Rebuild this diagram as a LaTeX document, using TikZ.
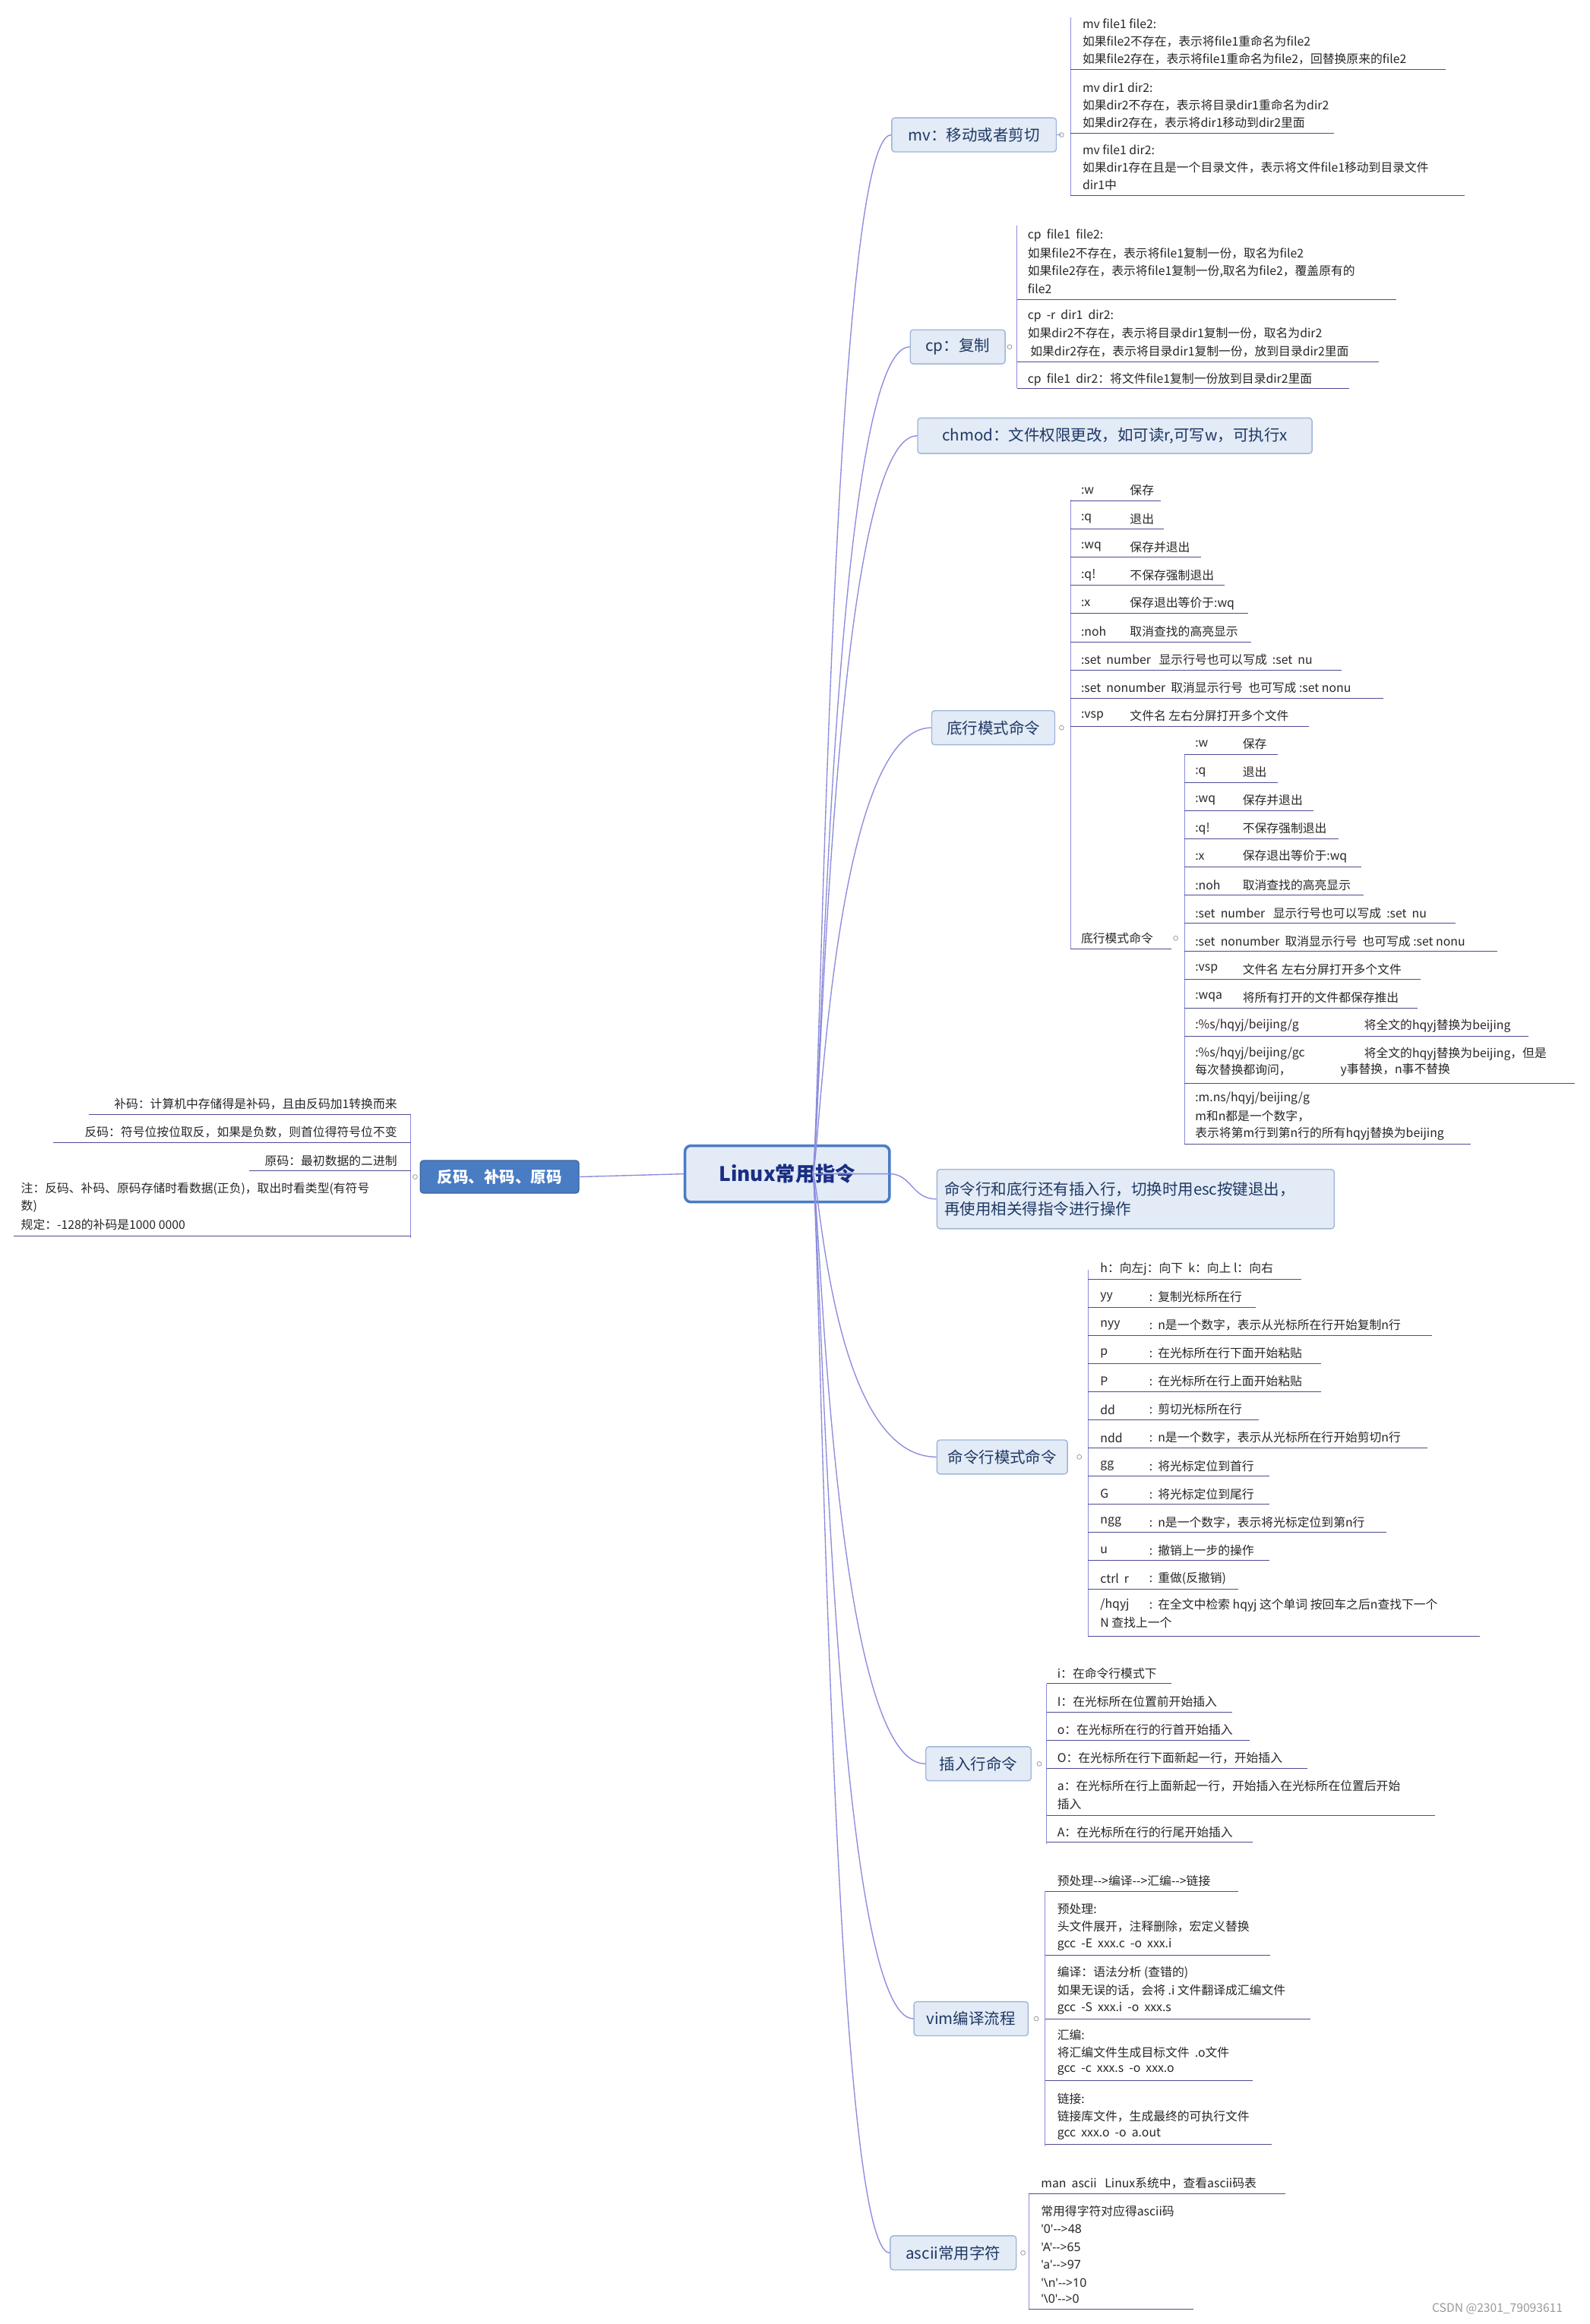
\documentclass[tikz,border=0pt]{standalone}
\usepackage{fontspec}
\setmainfont{Noto Sans CJK SC}
\newfontfamily\lat{Noto Sans}
\definecolor{lbox}{HTML}{4A7CC4}
\definecolor{bfill}{HTML}{E2EBF6}
\definecolor{bline}{HTML}{9FB6D8}
\definecolor{btext}{HTML}{1F3864}
\begin{document}
\begin{tikzpicture}[x=1pt,y=-1pt,
 t/.style={inner sep=0pt,font=\fontsize{8.1}{9}\selectfont,text=black!85},
 ul/.style={draw=black!60!blue!70,line width=0.5pt},
 ln/.style={draw=black!30!blue!45,line width=0.5pt},
 br/.style={draw=bline,line width=0.7pt,rounded corners=2pt,fill=bfill,inner sep=0pt,font=\fontsize{10.5}{13}\selectfont,text=btext},
 dot/.style={circle,draw=black!40,fill=white,inner sep=0pt,minimum size=3pt}]
\useasboundingbox (0,0) rectangle (1072,1568);
\newcommand\T[3]{\node[t,anchor=west] at (#1,#2) {#3};}
\newcommand\U[3]{\draw[ul] (#1,#3) -- (#2,#3);}
\newcommand\B[3]{\draw[ln] (#1,#2) -- (#1,#3);}
\newcommand\D[2]{\node[dot] at (#1,#2) {};}
% central
\node[draw=lbox,line width=1.8pt,rounded corners=4pt,fill=bfill,minimum width=138pt,minimum height=38pt,font=\fontsize{13.5}{15}\selectfont\bfseries,text=btext!80!blue] (c) at (531,792) {Linux常用指令};
\coordinate (o) at (548,792);
\coordinate (oc) at (560,792);
% branch nodes
\node[br,minimum width=111pt,minimum height=23pt] (mv) at (657,91) {mv：移动或者剪切};
\node[br,minimum width=64pt,minimum height=23pt] (cp) at (646,234) {cp：复制};
\node[br,minimum width=266pt,minimum height=24pt] (ch) at (752,294) {chmod：文件权限更改，如可读r,可写w，可执行x};
\node[br,minimum width=83pt,minimum height=23pt] (dh) at (670,491) {底行模式命令};
\node[br,minimum width=268pt,minimum height=40pt,align=left,text width=258pt] (sw) at (766,809) {命令行和底行还有插入行，切换时用esc按键退出，\\再使用相关得指令进行操作};
\node[br,minimum width=88pt,minimum height=23pt] (ml) at (676,983) {命令行模式命令};
\node[br,minimum width=71pt,minimum height=23pt] (cr) at (660,1190) {插入行命令};
\node[br,minimum width=77pt,minimum height=23pt] (vb) at (655,1362) {vim编译流程};
\node[br,minimum width=85pt,minimum height=23pt] (as) at (643,1520) {ascii常用字符};
\node[draw=lbox!80!black,line width=0.6pt,rounded corners=2pt,fill=lbox,text=white,font=\fontsize{10.5}{13}\selectfont\bfseries,minimum width=107pt,minimum height=22pt] (fm) at (337,794) {反码、补码、原码};
% connectors
\foreach \n in {mv,cp,ch,dh,ml,cr,vb,as}{\draw[ln,line width=0.7pt] (o) .. controls (553,792) and (\n.west -| oc) .. (\n.west);}
\draw[ln,line width=0.7pt] (o) -- (600,792) .. controls (615,792) and (615,809) .. (sw.west);
\draw[ln,line width=0.7pt] (c.west) -- (fm.east);
% mv
\D{716}{91}\draw[ln](mv.east)--(716,91);\B{722}{12}{132}
\T{730}{16}{mv file1 file2:}\T{730}{28}{如果file2不存在，表示将file1重命名为file2}\T{730}{40}{如果file2存在，表示将file1重命名为file2，回替换原来的file2}\U{722}{975}{47}
\T{730}{59}{mv dir1 dir2:}\T{730}{71}{如果dir2不存在，表示将目录dir1重命名为dir2}\T{730}{83}{如果dir2存在，表示将dir1移动到dir2里面}\U{722}{900}{90}
\T{730}{101}{mv file1 dir2:}\T{730}{113}{如果dir1存在且是一个目录文件，表示将文件file1移动到目录文件}\T{730}{125}{dir1中}\U{722}{988}{132}
% cp
\D{681}{234}\B{686}{152}{262}
\T{693}{159}{cp\ \ file1\ \ file2:}\T{693}{171}{如果file2不存在，表示将file1复制一份，取名为file2}\T{693}{183}{如果file2存在，表示将file1复制一份,取名为file2，覆盖原有的}\T{693}{195}{file2}\U{686}{942}{202}
\T{693}{213}{cp\ \ -r\ \ dir1\ \ dir2:}\T{693}{225}{如果dir2不存在，表示将目录dir1复制一份，取名为dir2}\T{693}{237}{\ 如果dir2存在，表示将目录dir1复制一份，放到目录dir2里面}\U{686}{930}{244}
\T{693}{256}{cp\ \ file1\ \ dir2：将文件file1复制一份放到目录dir2里面}\U{686}{910}{262}
% dihang
\D{716}{491}\B{722}{337}{640}
\foreach \y/\a/\b/\e in {331/:w/保存/783,350/:q/退出/785,369/:wq/保存并退出/810,388/:q!/不保存强制退出/826,407/:x/保存退出等价于:wq/842,426/:noh/取消查找的高亮显示/844,483/:vsp/文件名 左右分屏打开多个文件/883}{\T{729}{\y}{\a}\T{762}{\y}{\b}\U{722}{\e}{\y+7}}
\T{729}{445}{:set\ \ number\ \ \ 显示行号也可以写成\ \ :set\ \ nu}\U{722}{905}{452}
\T{729}{464}{:set\ \ nonumber\ \ 取消显示行号\ \ 也可写成 :set nonu}\U{722}{933}{471}
\T{729}{633}{底行模式命令}\U{722}{790}{640}\D{793}{633}\B{799}{509}{772}
\foreach \y/\a/\b/\e in {502/:w/保存/862,521/:q/退出/862,540/:wq/保存并退出/886,559/:q!/不保存强制退出/903,578/:x/保存退出等价于:wq/918,597/:noh/取消查找的高亮显示/920,654/:vsp/文件名 左右分屏打开多个文件/958,673/:wqa/将所有打开的文件都保存推出/956}{\T{806}{\y}{\a}\T{838}{\y}{\b}\U{799}{\e}{\y+7}}
\T{806}{616}{:set\ \ number\ \ \ 显示行号也可以写成\ \ :set\ \ nu}\U{799}{982}{623}
\T{806}{635}{:set\ \ nonumber\ \ 取消显示行号\ \ 也可写成 :set nonu}\U{799}{1010}{642}
\T{806}{692}{:\%s/hqyj/beijing/g}\T{920}{692}{将全文的hqyj替换为beijing}\U{799}{1031}{699}
\T{806}{711}{:\%s/hqyj/beijing/gc}\T{920}{711}{将全文的hqyj替换为beijing，但是}\T{806}{722}{每次替换都询问，}\T{904}{722}{y事替换，n事不替换}\U{799}{1062}{731}
\T{806}{741}{:m.ns/hqyj/beijing/g}\T{806}{753}{m和n都是一个数字，}\T{806}{765}{表示将第m行到第n行的所有hqyj替换为beijing}\U{799}{992}{772}
% minglinghang
\D{728}{983}\B{734}{857}{1104}
\T{742}{856}{h：向左j：向下\ \ k：向上 l：向右}\U{734}{878}{863}
\foreach \y/\a/\b/\e in {875/yy/复制光标所在行/847,894/nyy/n是一个数字，表示从光标所在行开始复制n行/966,913/p/在光标所在行下面开始粘贴/891,932/P/在光标所在行上面开始粘贴/891,951/dd/剪切光标所在行/849,970/ndd/n是一个数字，表示从光标所在行开始剪切n行/963,989/gg/将光标定位到首行/856,1008/G/将光标定位到尾行/856,1027/ngg/n是一个数字，表示将光标定位到第n行/935,1046/u/撤销上一步的操作/856,1065/ctrl\ \ r/重做(反撤销)/835}{\T{742}{\y}{\a}\T{775}{\y}{:\ \ \b}\U{734}{\e}{\y+7}}
\T{742}{1083}{/hqyj}\T{775}{1083}{:\ \ 在全文中检索 hqyj 这个单词 按回车之后n查找下一个}\T{742}{1095}{N 查找上一个}\U{734}{998}{1104}
% charu
\D{701}{1190}\B{706}{1136}{1244}
\foreach \y/\a/\e in {1129/i：在命令行模式下/790,1148/I：在光标所在位置前开始插入/831,1167/o：在光标所在行的行首开始插入/843,1186/O：在光标所在行下面新起一行，开始插入/882,1236/A：在光标所在行的行尾开始插入/845}{\T{713}{\y}{\a}\U{706}{\e}{\y+7}}
\T{713}{1205}{a：在光标所在行上面新起一行，开始插入在光标所在位置后开始}\T{713}{1217}{插入}\U{706}{968}{1225}
% vim
\D{699}{1362}\B{705}{1276}{1448}
\T{713}{1269}{预处理-{}->编译-{}->汇编-{}->链接}\U{705}{835}{1276}
\T{713}{1288}{预处理:}\T{713}{1300}{头文件展开，注释删除，宏定义替换}\T{713}{1312}{gcc\ \ -E\ \ xxx.c\ \ -o\ \ xxx.i}\U{705}{857}{1319}
\T{713}{1331}{编译：语法分析 (查错的)}\T{713}{1343}{如果无误的话，会将 .i 文件翻译成汇编文件}\T{713}{1355}{gcc\ \ -S\ \ xxx.i\ \ -o\ \ xxx.s}\U{705}{884}{1362}
\T{713}{1373}{汇编:}\T{713}{1385}{将汇编文件生成目标文件\ \ .o文件}\T{713}{1397}{gcc\ \ -c\ \ xxx.s\ \ -o\ \ xxx.o}\U{705}{845}{1404}
\T{713}{1416}{链接:}\T{713}{1428}{链接库文件，生成最终的可执行文件}\T{713}{1440}{gcc\ \ xxx.o\ \ -o\ \ a.out}\U{705}{858}{1447}
% ascii
\D{690}{1520}\B{694}{1480}{1558}
\T{702}{1473}{man\ \ ascii\ \ \ Linux系统中，查看ascii码表}\U{694}{867}{1480}
\T{702}{1492}{常用得字符对应得ascii码}\T{702}{1504}{\lat '0'-{}->48}\T{702}{1516}{\lat 'A'-{}->65}\T{702}{1528}{\lat 'a'-{}->97}\T{702}{1540}{\lat '\textbackslash n'-{}->10}\T{702}{1551}{\lat '\textbackslash 0'-{}->0}\U{694}{805}{1558}
% left
\D{280}{794}\B{277}{752}{835}
\node[t,anchor=east] at (268,745) {补码：计算机中存储得是补码，且由反码加1转换而来};\U{60}{277}{752}
\node[t,anchor=east] at (268,764) {反码：符号位按位取反，如果是负数，则首位得符号位不变};\U{36}{277}{771}
\node[t,anchor=east] at (268,783) {原码：最初数据的二进制};\U{168}{277}{790}
\T{14}{802}{注：反码、补码、原码存储时看数据(正负)，取出时看类型(有符号}\T{14}{814}{数)}\T{14}{826}{规定：-128的补码是1000 0000}\U{9}{277}{834}
\node[inner sep=0pt,font=\fontsize{8}{9}\selectfont,text=black!40] (wm) at (1010,1558) {CSDN @2301\_79093611};
\end{tikzpicture}
\end{document}
